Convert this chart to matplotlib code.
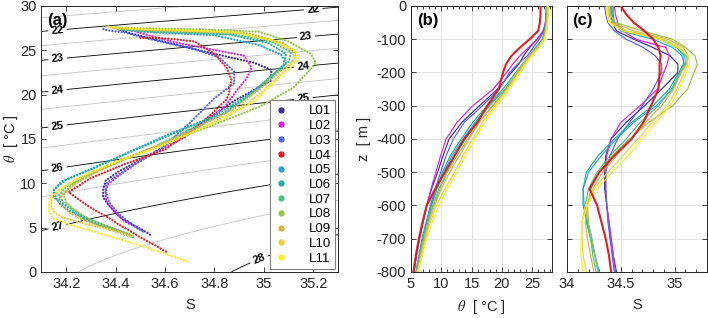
import numpy as np
import matplotlib
matplotlib.use('Agg')
import matplotlib.pyplot as plt
from matplotlib.lines import Line2D
from matplotlib.ticker import MultipleLocator, FuncFormatter

plt.rcParams['font.family'] = ['Liberation Sans', 'DejaVu Sans']
plt.rcParams['axes.unicode_minus'] = False
plt.rcParams['mathtext.fontset'] = 'stix'

# ---------------- data ----------------
depth = [0, 25, 50, 75, 100, 125, 150, 175, 200, 250, 300, 350, 400, 450, 500,
         550, 600, 650, 700, 750, 800, 900, 1000, 1200, 1500]

labels = ['L01', 'L02', 'L03', 'L04', 'L05', 'L06', 'L07', 'L08', 'L09', 'L10', 'L11']
colors = ['#3a2e9a', '#e21fd9', '#5463e6', '#dc1f26', '#2f9fd3', '#23ad9f',
          '#4fbf8a', '#98c24a', '#d7b24a', '#f1cf3d', '#f5f022']

T_L01 = [27.5, 27.4, 27.3, 26.9, 25.8, 24.6, 23.6, 22.8, 21.6, 19.3, 16.3, 13.4, 11.3, 10.3, 9.4, 8.4, 7.6, 7.0, 6.4, 5.9, 5.5, 5.0, 4.7, 4.4, 4.2]
S_L01 = [34.41, 34.41, 34.42, 34.46, 34.62, 34.80, 34.96, 35.03, 35.03, 34.88, 34.72, 34.55, 34.41, 34.36, 34.35, 34.35, 34.37, 34.39, 34.41, 34.43, 34.46, 34.49, 34.51, 34.53, 34.54]
T_L02 = [27.4, 27.3, 27.2, 26.8, 25.9, 24.4, 23.0, 21.8, 20.8, 18.6, 15.2, 12.6, 10.8, 9.9, 9.1, 8.3, 7.6, 7.0, 6.4, 5.9, 5.5, 5.1, 4.8, 4.6, 4.5]
S_L02 = [34.44, 34.45, 34.47, 34.52, 34.64, 34.92, 34.95, 34.93, 34.90, 34.84, 34.68, 34.50, 34.41, 34.37, 34.36, 34.36, 34.37, 34.39, 34.41, 34.43, 34.45, 34.48, 34.50, 34.51, 34.52]
T_L03 = [27.4, 27.3, 27.2, 27.0, 26.2, 25.2, 24.2, 22.6, 21.3, 19.6, 16.8, 13.8, 12.0, 10.8, 9.9, 9.0, 8.2, 7.6, 7.0, 6.4, 5.9, 5.3, 4.9, 4.6, 4.4]
S_L03 = [34.35, 34.36, 34.38, 34.44, 34.55, 34.71, 34.82, 34.88, 34.88, 34.80, 34.70, 34.58, 34.47, 34.40, 34.36, 34.36, 34.37, 34.38, 34.40, 34.42, 34.44, 34.47, 34.49, 34.51, 34.52]
T_L04 = [26.4, 26.4, 26.3, 26.0, 24.6, 23.0, 21.6, 20.7, 20.2, 19.5, 17.6, 16.0, 13.8, 12.2, 10.6, 9.0, 7.6, 6.9, 6.3, 5.8, 5.4, 4.6, 3.9, 3.0, 2.2]
S_L04 = [34.50, 34.55, 34.62, 34.72, 34.80, 34.85, 34.87, 34.86, 34.86, 34.85, 34.78, 34.71, 34.60, 34.44, 34.30, 34.21, 34.28, 34.32, 34.36, 34.39, 34.41, 34.46, 34.50, 34.56, 34.61]
T_L05 = [27.4, 27.4, 27.3, 27.1, 26.7, 25.6, 24.5, 23.6, 22.6, 20.6, 17.8, 15.6, 13.6, 11.8, 10.4, 9.3, 8.4, 7.6, 7.0, 6.4, 5.9, 5.1, 4.6, 4.1, 3.8]
S_L05 = [34.43, 34.43, 34.44, 34.50, 34.80, 34.98, 35.07, 35.09, 35.06, 34.98, 34.83, 34.62, 34.46, 34.32, 34.20, 34.15, 34.15, 34.19, 34.23, 34.26, 34.30, 34.37, 34.42, 34.46, 34.48]
T_L06 = [27.5, 27.5, 27.4, 27.2, 26.8, 25.8, 24.6, 23.4, 22.3, 20.2, 17.6, 15.2, 13.3, 11.5, 10.2, 9.2, 8.3, 7.5, 6.8, 6.3, 5.8, 5.0, 4.5, 4.1, 3.9]
S_L06 = [34.42, 34.42, 34.43, 34.52, 34.86, 35.02, 35.09, 35.08, 35.04, 34.95, 34.80, 34.60, 34.44, 34.29, 34.18, 34.15, 34.16, 34.18, 34.22, 34.26, 34.29, 34.36, 34.41, 34.45, 34.47]
T_L07 = [27.4, 27.4, 27.3, 27.1, 26.8, 26.0, 24.8, 23.7, 22.6, 20.6, 18.0, 15.8, 14.0, 12.3, 10.9, 9.6, 8.6, 7.8, 7.1, 6.5, 6.0, 5.2, 4.8, 4.4, 4.2]
S_L07 = [34.41, 34.41, 34.43, 34.55, 34.88, 35.03, 35.11, 35.10, 35.05, 34.97, 34.85, 34.68, 34.55, 34.40, 34.28, 34.20, 34.17, 34.19, 34.22, 34.24, 34.27, 34.34, 34.39, 34.44, 34.46]
T_L08 = [27.6, 27.6, 27.5, 27.4, 27.1, 26.0, 24.6, 23.6, 22.6, 20.8, 18.6, 16.2, 14.4, 12.6, 11.0, 9.8, 8.7, 7.8, 7.1, 6.5, 6.0, 5.2, 4.7, 4.3, 4.1]
S_L08 = [34.40, 34.40, 34.45, 34.70, 34.98, 35.10, 35.19, 35.21, 35.18, 35.12, 34.98, 34.76, 34.58, 34.42, 34.30, 34.22, 34.19, 34.20, 34.23, 34.26, 34.29, 34.36, 34.41, 34.45, 34.47]
T_L09 = [27.5, 27.5, 27.4, 27.2, 26.9, 25.8, 24.6, 23.5, 22.5, 20.8, 18.4, 16.3, 14.6, 13.0, 11.4, 10.0, 8.9, 8.0, 7.3, 6.6, 6.1, 5.2, 4.7, 4.3, 4.0]
S_L09 = [34.39, 34.39, 34.42, 34.62, 34.94, 35.08, 35.13, 35.11, 35.06, 34.99, 34.88, 34.73, 34.60, 34.46, 34.33, 34.24, 34.19, 34.17, 34.19, 34.22, 34.25, 34.33, 34.39, 34.44, 34.47]
T_L10 = [27.6, 27.6, 27.5, 27.3, 27.0, 25.9, 24.8, 23.8, 22.9, 21.0, 18.9, 16.8, 15.2, 13.6, 12.2, 10.6, 9.2, 8.2, 7.4, 6.8, 6.2, 5.4, 4.9, 4.3, 3.9]
S_L10 = [34.38, 34.38, 34.40, 34.55, 34.90, 35.05, 35.12, 35.12, 35.09, 35.02, 34.93, 34.79, 34.66, 34.52, 34.38, 34.25, 34.17, 34.14, 34.14, 34.15, 34.18, 34.28, 34.36, 34.43, 34.47]
T_L11 = [27.7, 27.7, 27.6, 27.4, 27.1, 26.2, 25.0, 24.0, 23.1, 21.3, 19.2, 17.2, 15.6, 14.0, 12.6, 11.0, 9.6, 8.5, 7.6, 6.9, 6.0, 5.3, 4.5, 3.0, 1.1]
S_L11 = [34.37, 34.37, 34.39, 34.52, 34.86, 35.03, 35.13, 35.14, 35.11, 35.04, 34.96, 34.83, 34.70, 34.57, 34.42, 34.28, 34.19, 34.14, 34.13, 34.13, 34.15, 34.22, 34.32, 34.50, 34.70]

T_all = [T_L01, T_L02, T_L03, T_L04, T_L05, T_L06, T_L07, T_L08, T_L09, T_L10, T_L11]
S_all = [S_L01, S_L02, S_L03, S_L04, S_L05, S_L06, S_L07, S_L08, S_L09, S_L10, S_L11]

sigma_major = [22, 23, 24, 25, 26, 27, 28]
sigma_minor = [21.5, 22.5, 23.5, 24.5, 25.5, 26.5, 27.5]
label_S_left = 34.165
label_S_right = [35.20, 35.17, 35.16, 35.16]   # for 22..25
label_S_28 = 34.98


# ---------------- equation of state (UNESCO 1980, p = 0) ----------------
def sigma0(S, T):
    S = np.asarray(S, float)
    T = np.asarray(T, float)
    rw = (999.842594 + 6.793952e-2 * T - 9.095290e-3 * T**2 + 1.001685e-4 * T**3
          - 1.120083e-6 * T**4 + 6.536332e-9 * T**5)
    A = 0.824493 - 4.0899e-3 * T + 7.6438e-5 * T**2 - 8.2467e-7 * T**3 + 5.3875e-9 * T**4
    B = -5.72466e-3 + 1.0227e-4 * T - 1.6546e-6 * T**2
    C = 4.8314e-4
    return rw + A * S + B * S**1.5 + C * S**2 - 1000.0


def temp_on_isopycnal(S, sig):
    lo, hi = -2.0, 40.0
    for _ in range(60):
        mid = 0.5 * (lo + hi)
        if sigma0(S, mid) > sig:
            lo = mid
        else:
            hi = mid
    return 0.5 * (lo + hi)


ink = '#262626'
fig = plt.figure(figsize=(7.08, 3.18), dpi=100)
ax_a = fig.add_axes([0.0586, 0.1447, 0.4188, 0.8365])
ax_b = fig.add_axes([0.5805, 0.1447, 0.1992, 0.8365])
ax_c = fig.add_axes([0.8008, 0.1447, 0.1977, 0.8365])

fmt_g = FuncFormatter(lambda v, p: f'{v:g}')

for ax in (ax_a, ax_b, ax_c):
    ax.tick_params(which='both', direction='in', top=True, right=True,
                   colors=ink, labelsize=10.5, width=0.6)
    ax.tick_params(which='major', length=3.5)
    ax.tick_params(which='minor', length=2)
    for sp in ax.spines.values():
        sp.set_color(ink)
        sp.set_linewidth(0.7)

# ---------------- (a) T-S diagram ----------------
Sg = np.linspace(34.1, 35.3, 241)
Tg = np.linspace(0, 30, 301)
SS, TT = np.meshgrid(Sg, Tg)
SIG = sigma0(SS, TT)
ax_a.contour(Sg, Tg, SIG, levels=sigma_minor, colors='#c4c4c4', linewidths=0.6, zorder=1)
cs = ax_a.contour(Sg, Tg, SIG, levels=sigma_major, colors='k', linewidths=0.6, zorder=1)

manual = []
for lev in sigma_major[:6]:
    manual.append((label_S_left, temp_on_isopycnal(label_S_left, lev)))
for lev, s in zip(sigma_major[:4], label_S_right):
    manual.append((s, temp_on_isopycnal(s, lev)))
manual.append((label_S_28, temp_on_isopycnal(label_S_28, 28)))
txts = ax_a.clabel(cs, manual=manual, inline=True, fontsize=8, fmt='%d', inline_spacing=3)
for t in txts:
    t.set_fontweight('bold')

for S, T, c in zip(S_all, T_all, colors):
    ax_a.plot(S, T, color=c, linestyle=(0, (0.1, 1.3)), linewidth=1.6,
              dash_capstyle='round', zorder=3)

ax_a.set_xlim(34.1, 35.3)
ax_a.set_ylim(0, 30)
ax_a.xaxis.set_major_locator(MultipleLocator(0.2))
ax_a.xaxis.set_major_formatter(fmt_g)
ax_a.yaxis.set_major_locator(MultipleLocator(5))
ax_a.set_xlabel('S', fontsize=10.5, color=ink, labelpad=5)
ax_a.set_ylabel(r'$\theta$  [ °C ]', fontsize=10.5, color=ink, labelpad=0.5)
ax_a.text(0.02, 0.975, '(a)', transform=ax_a.transAxes, fontsize=12,
          fontweight='bold', va='top', ha='left', color='k')

handles = [Line2D([], [], marker='o', linestyle='none', color=c, markersize=3.5)
           for c in colors]
leg = ax_a.legend(handles, labels, loc='lower right', bbox_to_anchor=(1.0, 0.0),
                  borderaxespad=0.2, fontsize=9.5, labelspacing=0.19,
                  handletextpad=1.6, handlelength=1.0, borderpad=0.35,
                  fancybox=False, framealpha=1, edgecolor='#808080')
leg.get_frame().set_linewidth(0.8)
leg.set_zorder(5)

# ---------------- (b) theta profiles ----------------
zneg = -np.asarray(depth, float)
order = [0, 1, 2, 4, 5, 6, 7, 8, 9, 10, 3]
for i in order:
    lw = 1.5 if labels[i] == 'L04' else 0.85
    ax_b.plot(T_all[i], zneg, color=colors[i], linewidth=lw, zorder=3)
ax_b.set_xlim(5, 28.3)
ax_b.set_ylim(-800, 0)
ax_b.xaxis.set_major_locator(MultipleLocator(5))
ax_b.xaxis.set_minor_locator(MultipleLocator(1))
ax_b.yaxis.set_major_locator(MultipleLocator(100))
ax_b.grid(True, which='major', color='#dedede', linewidth=0.6)
ax_b.set_axisbelow(True)
ax_b.set_xlabel(r'$\theta$  [ °C ]', fontsize=10.5, color=ink, labelpad=5)
ax_b.set_ylabel('z  [ m ]', fontsize=10.5, color=ink)
ax_b.text(0.04, 0.975, '(b)', transform=ax_b.transAxes, fontsize=12,
          fontweight='bold', va='top', ha='left', color='k')

# ---------------- (c) salinity profiles ----------------
for i in order:
    lw = 1.5 if labels[i] == 'L04' else 0.85
    ax_c.plot(S_all[i], zneg, color=colors[i], linewidth=lw, zorder=3)
ax_c.set_xlim(34, 35.3)
ax_c.set_ylim(-800, 0)
ax_c.set_xticks([34, 34.5, 35])
ax_c.xaxis.set_major_formatter(fmt_g)
ax_c.xaxis.set_minor_locator(MultipleLocator(0.1))
ax_c.yaxis.set_major_locator(MultipleLocator(100))
ax_c.tick_params(labelleft=False)
ax_c.grid(True, which='major', color='#dedede', linewidth=0.6)
ax_c.set_axisbelow(True)
ax_c.set_xlabel('S', fontsize=10.5, color=ink, labelpad=5)
ax_c.text(0.04, 0.975, '(c)', transform=ax_c.transAxes, fontsize=12,
          fontweight='bold', va='top', ha='left', color='k')

fig.savefig('out.png', dpi=100)
